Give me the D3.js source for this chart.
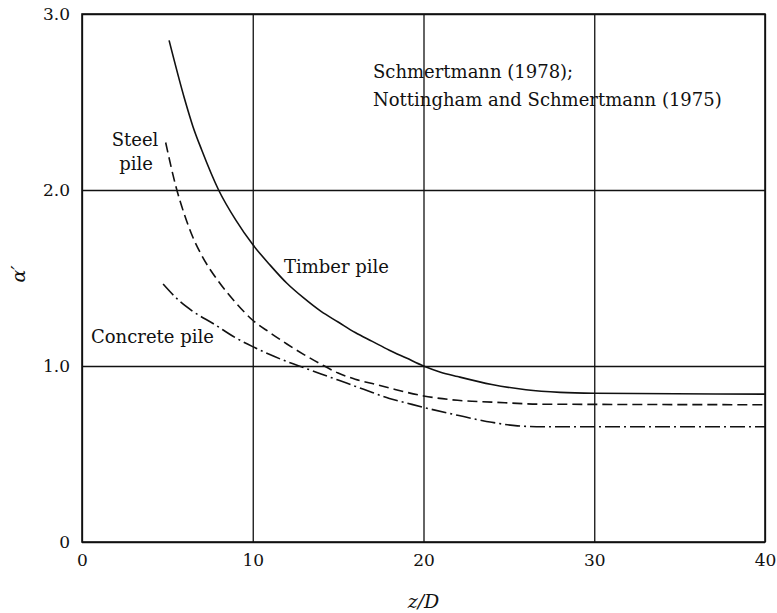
<!DOCTYPE html>
<meta charset="utf-8">
<head>
    <style>
        body { margin: 0; background: #fff; }
        text {
            font-family: "DejaVu Serif", serif;
            font-size: 17px;
            fill: #111;
        }
        .note { font-size: 18px; }
        .axis-label { font-size: 19px; font-style: italic; }
        .grid line { stroke: #111; stroke-width: 1.3px; }
        .grid path { display: none; }
        .curve { fill: none; stroke: #111; stroke-width: 1.6px; }
    </style>
</head>
<body>
    <svg width="777" height="613"></svg>
</body>
<script src="https://d3js.org/d3.v7.min.js"></script>
<script>

    // z/D vs alpha'
    var timberZ = [5.1, 6, 6.5, 7, 8, 9, 10, 11, 12, 13, 14, 15, 16, 17, 18, 19, 20, 21, 22, 24, 26, 28, 30, 40];
    var timberA = [2.85, 2.52, 2.36, 2.23, 2.0, 1.83, 1.69, 1.575, 1.47, 1.385, 1.31, 1.25, 1.19, 1.14, 1.09, 1.045, 1.0, 0.965, 0.94, 0.895, 0.865, 0.85, 0.845, 0.84];

    var steelZ = [4.9, 5.5, 6, 6.5, 7, 8, 9, 10, 11, 12, 13, 14, 15, 16, 17, 18, 20, 22, 24, 27, 40];
    var steelA = [2.27, 2.02, 1.86, 1.73, 1.63, 1.48, 1.36, 1.26, 1.19, 1.125, 1.065, 1.01, 0.96, 0.925, 0.90, 0.875, 0.83, 0.805, 0.795, 0.783, 0.78];

    var concreteZ = [4.75, 5.7, 6.5, 7.7, 9, 10, 11, 12, 13, 14, 15, 16, 17, 18, 19, 20, 22, 24, 25.5, 27, 40];
    var concreteA = [1.466, 1.37, 1.31, 1.24, 1.16, 1.11, 1.065, 1.025, 0.99, 0.955, 0.92, 0.885, 0.85, 0.815, 0.79, 0.765, 0.72, 0.68, 0.66, 0.655, 0.655];

    var xTicks = [0, 10, 20, 30, 40];
    var yTicks = [0, 1, 2, 3];

    var svg = d3.select("svg"),
        margin = { top: 14, right: 12, bottom: 71, left: 82 },
        width = +svg.attr("width") - margin.left - margin.right,
        height = +svg.attr("height") - margin.top - margin.bottom;

    var g = svg.append("g")
        .attr("transform", "translate(" + margin.left + "," + margin.top + ")");

    var x = d3.scaleLinear().domain([0, 40]).range([0, width]);
    var y = d3.scaleLinear().domain([0, 3]).range([height, 0]);

    g.append("g")
        .attr("class", "grid")
        .attr("transform", "translate(0," + height + ")")
        .call(d3.axisBottom(x)
            .tickValues(xTicks)
            .tickSizeInner(-height)
            .tickSizeOuter(0)
            .tickPadding(12));

    g.append("g")
        .attr("class", "grid")
        .call(d3.axisLeft(y)
            .tickValues(yTicks)
            .tickFormat(function (d) { return d === 0 ? "0" : d3.format(".1f")(d); })
            .tickSizeInner(-width)
            .tickSizeOuter(0)
            .tickPadding(12));

    g.append("rect")
        .attr("width", width)
        .attr("height", height)
        .attr("fill", "none")
        .attr("stroke", "#111")
        .attr("stroke-width", 1.6);

    var line = d3.line()
        .x(function (d) { return x(d[0]); })
        .y(function (d) { return y(d[1]); })
        .curve(d3.curveMonotoneX);

    function pairs(zs, as) {
        return zs.map(function (z, i) { return [z, as[i]]; });
    }

    g.append("path")
        .attr("class", "curve")
        .attr("d", line(pairs(timberZ, timberA)));

    g.append("path")
        .attr("class", "curve")
        .attr("stroke-dasharray", "10,5")
        .attr("d", line(pairs(steelZ, steelA)));

    g.append("path")
        .attr("class", "curve")
        .attr("stroke-dasharray", "15,4,2,4")
        .attr("d", line(pairs(concreteZ, concreteA)));

    // labels
    svg.append("text").attr("class", "note").attr("x", 135).attr("y", 146).attr("text-anchor", "middle").text("Steel");
    svg.append("text").attr("class", "note").attr("x", 136).attr("y", 170).attr("text-anchor", "middle").text("pile");
    svg.append("text").attr("class", "note").attr("x", 284).attr("y", 273).text("Timber pile");
    svg.append("text").attr("class", "note").attr("x", 91).attr("y", 343).text("Concrete pile");
    svg.append("text").attr("class", "note").attr("x", 373).attr("y", 78).text("Schmertmann (1978);");
    svg.append("text").attr("class", "note").attr("x", 373).attr("y", 106).text("Nottingham and Schmertmann (1975)");

    svg.append("text")
        .attr("class", "axis-label")
        .attr("transform", "translate(25,274) rotate(-90)")
        .attr("text-anchor", "middle")
        .text("\u03b1\u2032");

    svg.append("text")
        .attr("class", "axis-label")
        .attr("x", margin.left + width / 2)
        .attr("y", 608)
        .attr("text-anchor", "middle")
        .text("z/D");

</script>
